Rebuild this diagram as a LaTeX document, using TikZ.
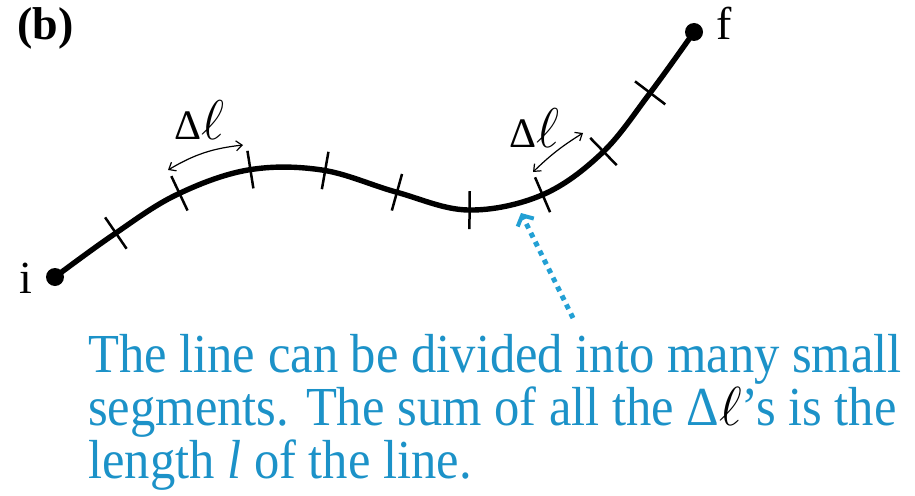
\RequirePackage{fix-cm}
\documentclass[tikz,border=0pt]{standalone}
\usepackage{fontspec}
\setmainfont{Liberation Serif}
\newfontfamily\captionfont[FakeStretch=0.92]{Liberation Serif}
\usetikzlibrary{arrows.meta,decorations.markings}
\definecolor{capblue}{RGB}{28,146,200}
\definecolor{arrblue}{RGB}{35,160,212}
\begin{document}
\begin{tikzpicture}[x=1pt,y=-1pt,
  enddot/.style={circle,fill=black,inner sep=0pt,minimum size=18pt},
  ptlabel/.style={font=\fontsize{46}{46}\selectfont, inner sep=0pt},
  pathline/.style={line width=5.4pt, line cap=round, postaction={decorate},
    decoration={markings, mark=between positions 0.1 and 0.91 step 0.1 with
      {\draw[line width=2.5pt, line cap=butt] (0pt,-19pt) -- (0pt,19pt);}}},
  dlarrow/.style={line width=1.2pt,{Straight Barb[length=6pt,width=10pt]}-{Straight Barb[length=6pt,width=10pt]}},
  dllabel/.style={inner sep=0pt, anchor=base west},
  callout/.style={arrblue, line width=5pt, dash pattern=on 5pt off 5pt,
    -{Straight Barb[length=8pt,width=18pt,line width=4pt]}}
]
\useasboundingbox (0,0) rectangle (915,495);
\coordinate (ipt) at (55,277);
\coordinate (fpt) at (694,32);
\draw[pathline] plot[smooth, tension=0.6] coordinates {(ipt) (113,235) (176,195) (248,170) (322,170) (396,192) (468,210) (542,195) (602,153) (650,93) (fpt)};
\node[enddot] (i) at (ipt) {};
\node[enddot] (f) at (fpt) {};
\node[ptlabel, anchor=base west] (ilab) at (19,293) {i};
\node[ptlabel, anchor=base west] (flab) at (716,40) {f};
\node[inner sep=0pt, anchor=base west, font=\bfseries\fontsize{46}{46}\selectfont] (title) at (17,40) {(b)};
% Delta l labels
\node[dllabel] (dl1) at (174,139) {{\fontsize{42}{42}\selectfont Δ}{\fontsize{56}{56}\selectfont$\ell$}};
\coordinate (a1s) at (168,170);
\coordinate (a1e) at (243,145);
\draw[dlarrow] (a1s) to[bend left=12] (a1e);
\node[dllabel] (dl2) at (509,147) {{\fontsize{42}{42}\selectfont Δ}{\fontsize{56}{56}\selectfont$\ell$}};
\coordinate (a2s) at (533,172);
\coordinate (a2e) at (583,133);
\draw[dlarrow] (a2s) to[bend left=6] (a2e);
% caption
\node[inner sep=0pt, anchor=north west, align=left, text=capblue,
  font=\captionfont\fontsize{55}{53}\selectfont] (cap) at (88,334)
  {The line can be divided into many small\\
   segments. The sum of all the Δ{\color{black}$\ell$}’s is the\\
   length \textit{l} of the line.};
\coordinate (tail) at (573,318);
\coordinate (tip) at (521,213);
\draw[callout] (tail) -- (tip);
\end{tikzpicture}
\end{document}
